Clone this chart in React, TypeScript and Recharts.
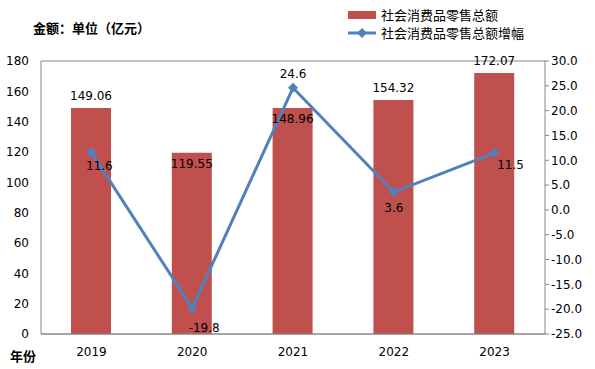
import { Bar, CartesianGrid, ComposedChart, Line, LabelList, XAxis, YAxis } from "recharts";

const years = ["2019", "2020", "2021", "2022", "2023"];
const salesTotal = [149.06, 119.55, 148.96, 154.32, 172.07];
const growthRate = [11.6, -19.8, 24.6, 3.6, 11.5];
const leftTicks = [0, 20, 40, 60, 80, 100, 120, 140, 160, 180];
const rightTicks = [-25, -20, -15, -10, -5, 0, 5, 10, 15, 20, 25, 30];

const barName = "社会消费品零售总额";
const lineName = "社会消费品零售总额增幅";

const data = years.map((y, i) => ({ year: y, total: salesTotal[i], growth: growthRate[i] }));

// label placement tweaks (pixels)
const lineLabelOffset = [
  [8, 14],
  [12, 20],
  [0, -14],
  [0, 16],
  [16, 12],
];
const barLabelInside = [false, true, true, false, false];

const FONT = "'DejaVu Sans', sans-serif";
const CJK = "'Noto Sans CJK SC', sans-serif";
const BAR = "#C0504D";
const LINE = "#4F81BD";

const Diamond = (props: any) => {
  const { cx, cy } = props;
  if (cx == null || cy == null) return null;
  const r = 5;
  return <path d={`M${cx},${cy - r}L${cx + r},${cy}L${cx},${cy + r}L${cx - r},${cy}Z`} fill={LINE} />;
};

const LineLabel = (props: any) => {
  const { x, y, value, index } = props;
  const [dx, dy] = lineLabelOffset[index];
  return (
    <text x={x + dx} y={y + dy} textAnchor="middle" dominantBaseline="central" fontSize={12} fill="#000" fontFamily={FONT}>
      {value}
    </text>
  );
};

const BarLabel = (props: any) => {
  const { x, y, width, value, index } = props;
  const inside = barLabelInside[index];
  return (
    <text x={x + width / 2} y={inside ? y + 11 : y - 12} textAnchor="middle" dominantBaseline="central" fontSize={12} fill="#000" fontFamily={FONT}>
      {value}
    </text>
  );
};

export default function App() {
  return (
    <div style={{ position: "absolute", left: 0, top: 0, width: 595, height: 369, background: "#fff", fontFamily: FONT }}>
      <div style={{ position: "absolute", left: 33, top: 18, fontSize: 13, fontWeight: "bold", fontFamily: CJK }}>
        金额：单位（亿元）
      </div>
      <div style={{ position: "absolute", left: 348, top: 6, fontSize: 13, lineHeight: "18px", fontFamily: CJK }}>
        <div style={{ display: "flex", alignItems: "center" }}>
          <span style={{ display: "inline-block", width: 28, height: 8, background: BAR, marginRight: 5 }} />
          {barName}
        </div>
        <div style={{ display: "flex", alignItems: "center" }}>
          <svg width={28} height={10} style={{ marginRight: 5 }}>
            <line x1={0} y1={5} x2={28} y2={5} stroke={LINE} strokeWidth={3} />
            <path d="M14,0L19,5L14,10L9,5Z" fill={LINE} />
          </svg>
          {lineName}
        </div>
      </div>
      <div style={{ position: "absolute", left: 10, top: 346, fontSize: 13, fontWeight: "bold", fontFamily: CJK }}>
        年份
      </div>
      <ComposedChart
        width={595}
        height={369}
        data={data}
        margin={{ top: 61, right: 0, left: 0, bottom: 0 }}
      >
        <CartesianGrid vertical={false} stroke="#868686" />
        <XAxis
          dataKey="year"
          height={35}
          stroke="#868686"
          tick={{ fill: "#000", fontSize: 12, fontFamily: FONT }}
          tickLine={false}
          tickMargin={7}
        />
        <YAxis
          yAxisId="left"
          width={41}
          domain={[0, 180]}
          ticks={leftTicks}
          stroke="#868686"
          tickLine={false}
          tick={{ fill: "#000", fontSize: 12, fontFamily: FONT }}
          tickMargin={6}
        />
        <YAxis
          yAxisId="right"
          orientation="right"
          width={50}
          domain={[-25, 30]}
          ticks={rightTicks}
          stroke="#868686"
          tickSize={4}
          tick={{ fill: "#000", fontSize: 12, fontFamily: FONT }}
          tickFormatter={(v: number) => v.toFixed(1)}
        />
        <Bar yAxisId="left" dataKey="total" name={barName} fill={BAR} barSize={40} isAnimationActive={false}>
          <LabelList dataKey="total" content={BarLabel} />
        </Bar>
        <Line
          yAxisId="right"
          dataKey="growth"
          name={lineName}
          type="linear"
          stroke={LINE}
          strokeWidth={3}
          dot={<Diamond />}
          activeDot={false}
          isAnimationActive={false}
        >
          <LabelList dataKey="growth" content={LineLabel} />
        </Line>
      </ComposedChart>
    </div>
  );
}
